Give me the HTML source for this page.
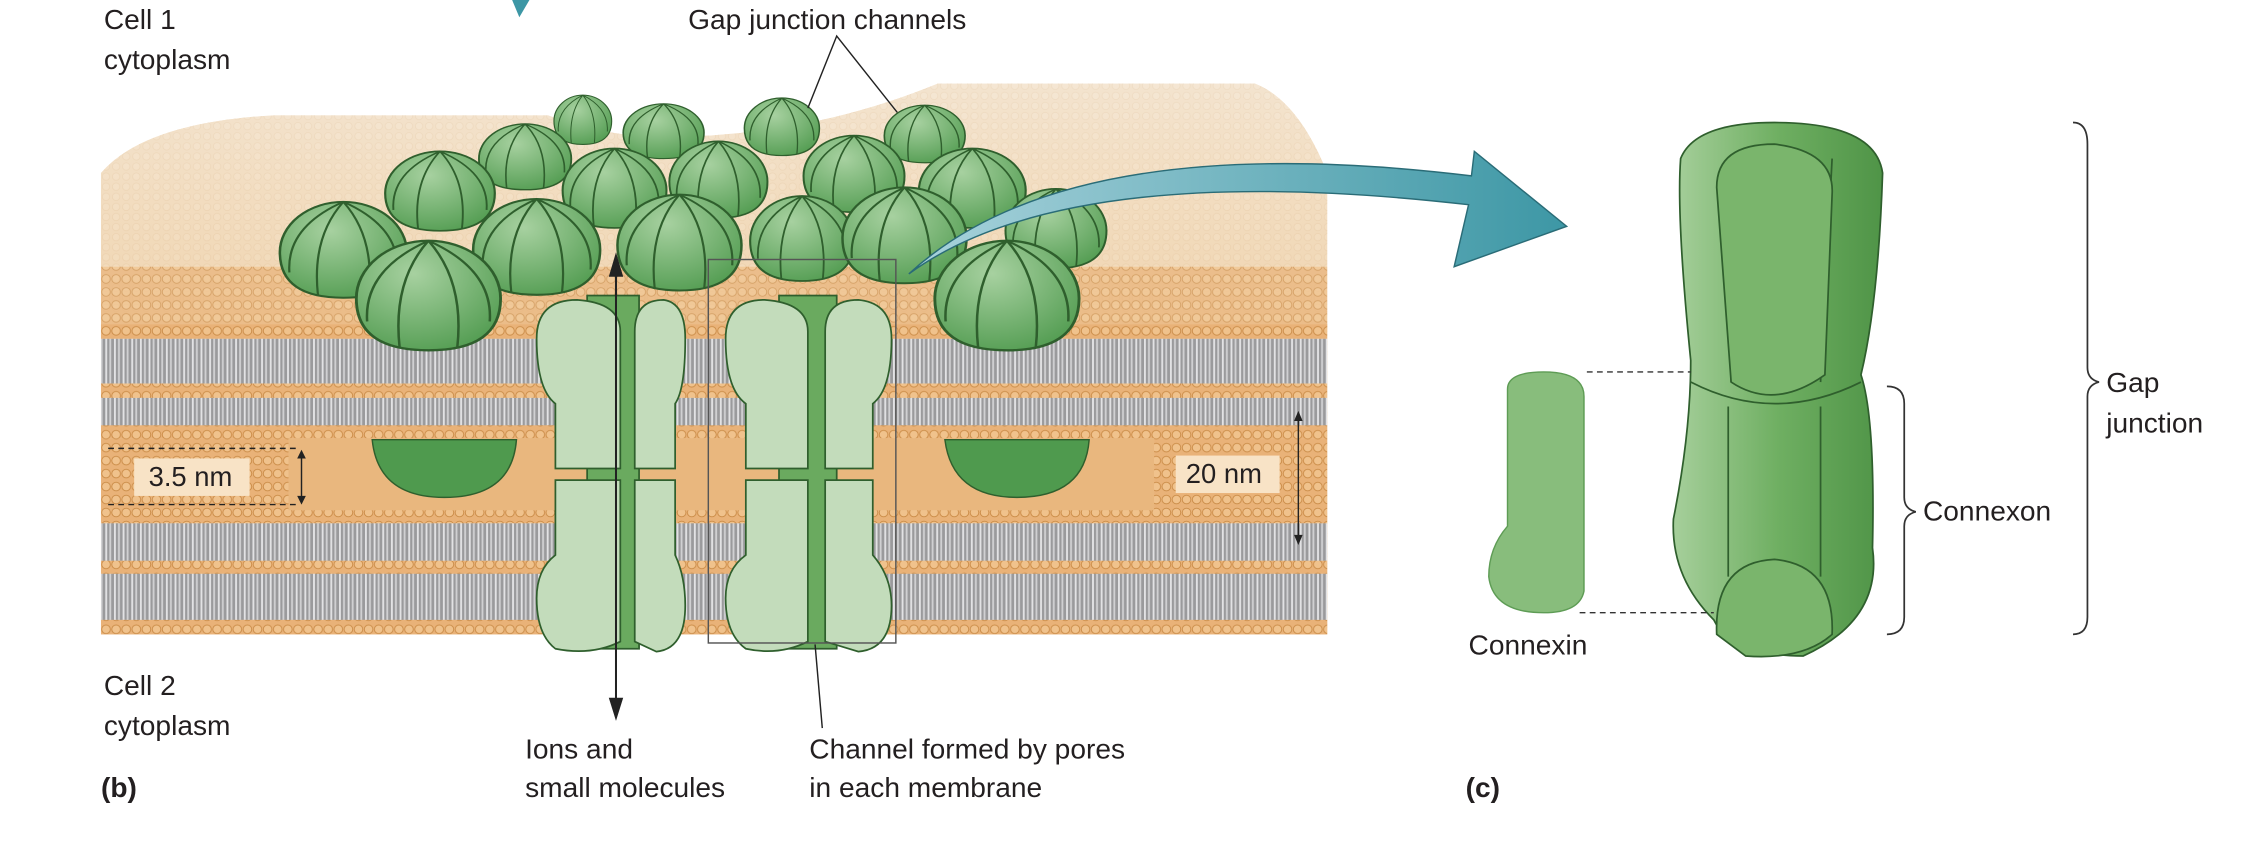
<!DOCTYPE html>
<html><head><meta charset="utf-8"><style>
html,body{margin:0;padding:0;background:#fff}
svg{display:block}
text{font-family:"Liberation Sans",sans-serif;fill:#231f20}
</style></head><body>
<svg width="2262" height="865" viewBox="0 0 1568 600" preserveAspectRatio="none" xmlns="http://www.w3.org/2000/svg">
<defs>
<pattern id="beads" width="7" height="9" patternUnits="userSpaceOnUse">
<rect width="7" height="9" fill="#e9b278"/>
<circle cx="3.5" cy="4.5" r="3" fill="#f0c28c" stroke="#c98a45" stroke-width="0.6"/>
</pattern>
<pattern id="lightbeads" width="7" height="7" patternUnits="userSpaceOnUse">
<rect width="7" height="7" fill="#f1dcc0"/>
<circle cx="3.5" cy="3.5" r="2.6" fill="#f7e8d4" stroke="#dcb98f" stroke-width="0.5"/>
</pattern>
<pattern id="tails" width="6" height="30" patternUnits="userSpaceOnUse">
<rect width="6" height="30" fill="#9a9a9c"/>
<rect x="1" width="1.3" height="30" fill="#e2e2e4"/>
<rect x="3.8" width="1.3" height="30" fill="#d0d0d2"/>
</pattern>
<linearGradient id="topg" x1="0" y1="0" x2="0" y2="1">
<stop offset="0" stop-color="#f4e6d3"/><stop offset="0.5" stop-color="#efcfa4"/><stop offset="1" stop-color="#e8ad6c"/>
</linearGradient>
<linearGradient id="arrowg" x1="0" y1="0" x2="1" y2="0">
<stop offset="0" stop-color="#a9d3dc"/><stop offset="1" stop-color="#3d97a5"/>
</linearGradient>
<radialGradient id="dome" cx="0.4" cy="0.3" r="0.8">
<stop offset="0" stop-color="#a7d1a0"/><stop offset="1" stop-color="#4f9a4e"/>
</radialGradient>
<linearGradient id="conn" x1="0" y1="0" x2="1" y2="0">
<stop offset="0" stop-color="#a6cf9b"/><stop offset="0.5" stop-color="#6faf62"/><stop offset="1" stop-color="#4f9447"/>
</linearGradient>
<g id="d">
<path d="M-1,0 A1,1 0 0 1 1,0 Q1,0.9 0,0.9 Q-1,0.9 -1,0Z" fill="url(#dome)" stroke="#2f5f2d" stroke-width="0.04"/>
<path d="M0,-1 Q-0.5,-0.3 -0.4,0.85 M0,-1 Q0.5,-0.3 0.4,0.85 M0,-1 Q-0.9,-0.5 -0.85,0.4 M0,-1 Q0.9,-0.5 0.85,0.4" fill="none" stroke="#2f5f2d" stroke-width="0.035"/>
</g>
</defs>
<!-- membrane block -->
<path d="M70,120 Q100,85 190,80 L380,80 Q420,95 460,95 Q560,95 650,58 L870,58 Q900,70 920,120 L920,440 L70,440Z" fill="url(#lightbeads)"/>
<path d="M70,120 Q100,85 190,80 L380,80 Q420,95 460,95 Q560,95 650,58 L870,58 Q900,70 920,120 L920,440 L70,440Z" fill="url(#topg)" opacity="0.75"/>
<rect x="70" y="185" width="850" height="45" fill="url(#beads)" opacity="0.7"/>
<!-- layered bands -->
<rect x="70" y="225" width="850" height="10" fill="url(#beads)"/>
<rect x="70" y="235" width="850" height="32" fill="url(#tails)"/>
<rect x="70" y="266" width="850" height="10" fill="url(#beads)"/>
<rect x="70" y="276" width="850" height="20" fill="url(#tails)"/>
<rect x="70" y="295" width="850" height="9" fill="url(#beads)"/>
<rect x="200" y="304" width="600" height="50" fill="#e9b77e"/>
<rect x="70" y="304" width="130" height="50" fill="url(#beads)"/>
<rect x="800" y="304" width="120" height="50" fill="url(#beads)"/>
<rect x="70" y="354" width="850" height="9" fill="url(#beads)"/>
<rect x="70" y="363" width="850" height="26" fill="url(#tails)"/>
<rect x="70" y="389" width="850" height="9" fill="url(#beads)"/>
<rect x="70" y="398" width="850" height="32" fill="url(#tails)"/>
<rect x="70" y="430" width="850" height="10" fill="url(#beads)"/>
<!-- lower hemispheres -->
<path d="M258,305 L358,305 Q355,345 308,345 Q262,345 258,305Z" fill="#4f9a4e" stroke="#2f5f2d"/>
<path d="M655,305 L755,305 Q752,345 705,345 Q660,345 655,305Z" fill="#4f9a4e" stroke="#2f5f2d"/>
<!-- domes -->
<use href="#d" transform="translate(404,84) scale(20,18)"/>
<use href="#d" transform="translate(460,92) scale(28,20)"/>
<use href="#d" transform="translate(542,89) scale(26,21)"/>
<use href="#d" transform="translate(641,94) scale(28,21)"/>
<use href="#d" transform="translate(364,110) scale(32,24)"/>
<use href="#d" transform="translate(426,132) scale(36,29)"/>
<use href="#d" transform="translate(498,126) scale(34,28)"/>
<use href="#d" transform="translate(592,122) scale(35,28)"/>
<use href="#d" transform="translate(674,132) scale(37,29)"/>
<use href="#d" transform="translate(305,134) scale(38,29)"/>
<use href="#d" transform="translate(238,175) scale(44,35)"/>
<use href="#d" transform="translate(372,173) scale(44,35)"/>
<use href="#d" transform="translate(471,170) scale(43,35)"/>
<use href="#d" transform="translate(556,167) scale(36,31)"/>
<use href="#d" transform="translate(627,165) scale(43,35)"/>
<use href="#d" transform="translate(732,160) scale(35,29)"/>
<use href="#d" transform="translate(297,207) scale(50,40)"/>
<use href="#d" transform="translate(698,207) scale(50,40)"/>
<!-- channels -->
<g fill="#c3dcbb" stroke="#2f5f2d" stroke-width="1.2">
<rect x="407" y="205" width="36" height="245" fill="#6aaa5f"/>
<path d="M372,235 Q372,208 400,208 Q430,210 430,230 L430,325 L385,325 Q385,300 385,280 Q372,270 372,235Z"/>
<path d="M440,230 Q440,208 460,208 Q475,210 475,235 Q475,270 468,280 L468,325 L440,325Z"/>
<path d="M385,333 L430,333 L430,445 Q410,455 385,450 Q372,440 372,415 Q372,395 385,385Z"/>
<path d="M440,333 L468,333 L468,385 Q475,400 475,420 Q475,450 455,452 L440,445Z"/>
<rect x="540" y="205" width="40" height="245" fill="#6aaa5f"/>
<path d="M503,235 Q503,208 530,208 Q560,210 560,230 L560,325 L517,325 Q517,300 517,280 Q503,270 503,235Z"/>
<path d="M572,230 Q572,208 595,208 Q618,210 618,235 Q618,270 605,280 L605,325 L572,325Z"/>
<path d="M517,333 L560,333 L560,445 Q540,455 517,450 Q503,440 503,415 Q503,395 517,385Z"/>
<path d="M572,333 L605,333 L605,385 Q618,400 618,420 Q618,450 595,452 L572,445Z"/>
</g>
<rect x="491" y="180" width="130" height="266" fill="none" stroke="#555" stroke-width="1"/>
<!-- vertical arrow -->
<line x1="427" y1="185" x2="427" y2="492" stroke="#222" stroke-width="1.4"/>
<path d="M427,175 L422,192 L432,192Z M427,500 L422,484 L432,484Z" fill="#222"/>
<!-- leaders -->
<path d="M560,75 L580,25 L622,78 M565,447 L570,505" fill="none" stroke="#222" stroke-width="1"/>
<!-- dimension -->
<line x1="75" y1="311" x2="205" y2="311" stroke="#222" stroke-dasharray="4,3"/>
<line x1="75" y1="350" x2="205" y2="350" stroke="#222" stroke-dasharray="4,3"/>
<rect x="93" y="318" width="80" height="26" fill="#f8e3c6"/>
<text x="103" y="337" font-size="19">3.5 nm</text>
<line x1="209" y1="316" x2="209" y2="346" stroke="#222"/>
<path d="M209,312 l-3,6 h6Z M209,350 l-3,-6 h6Z" fill="#222"/>
<rect x="815" y="316" width="72" height="26" fill="#f8e3c6"/>
<text x="822" y="335" font-size="19">20 nm</text>
<line x1="900" y1="290" x2="900" y2="373" stroke="#222"/>
<path d="M900,285 l-3,7 h6Z M900,378 l-3,-7 h6Z" fill="#222"/>
<!-- teal arrows -->
<path d="M355,0 L367,0 L360,12Z" fill="#3d97a5"/>
<path d="M630,190 Q740,110 1018,142 L1008,185 L1086,157 L1022,105 L1020,122 Q740,88 630,190Z" fill="url(#arrowg)" stroke="#2a6c77" stroke-width="1"/>
<!-- connexon -->
<g stroke="#2f5f2d" stroke-width="1.2">
<path d="M1172,250 Q1162,150 1165,110 Q1175,85 1230,85 Q1300,85 1305,120 Q1302,210 1290,260 Q1300,290 1298,380 Q1305,430 1250,455 Q1200,455 1188,430 Q1158,400 1160,360 Q1172,300 1172,250Z" fill="url(#conn)"/>
<path d="M1172,265 Q1230,295 1290,265" fill="none"/>
<path d="M1200,120 L1200,265 M1270,110 L1262,265 M1198,282 L1198,400 M1262,282 L1262,400" fill="none"/>
<path d="M1190,130 Q1190,100 1230,100 Q1272,105 1270,135 L1265,260 Q1230,285 1200,265Z" fill="#7ab56c"/>
<path d="M1190,440 Q1188,390 1230,388 Q1272,392 1270,440 Q1250,458 1210,455Z" fill="#7ab56c"/>
</g>
<path d="M1045,270 Q1045,258 1070,258 Q1098,258 1098,275 L1098,410 Q1095,425 1070,425 Q1035,425 1032,400 Q1032,380 1045,365Z" fill="#88bd7c" stroke="#5e9c55"/>
<path d="M1100,258 L1172,258 M1095,425 L1188,425" stroke="#333" stroke-dasharray="4,3"/>
<!-- braces -->
<path d="M1308,268 Q1320,268 1320,280 L1320,345 Q1320,353 1328,355 Q1320,357 1320,365 L1320,428 Q1320,440 1308,440" fill="none" stroke="#333" stroke-width="1.2"/>
<path d="M1437,85 Q1447,85 1447,100 L1447,255 Q1447,263 1455,265 Q1447,267 1447,275 L1447,428 Q1447,440 1437,440" fill="none" stroke="#333" stroke-width="1.2"/>
<!-- text -->
<g font-size="19.5">
<text x="72" y="20">Cell 1</text>
<text x="72" y="48">cytoplasm</text>
<text x="477" y="20">Gap junction channels</text>
<text x="72" y="482">Cell 2</text>
<text x="72" y="510">cytoplasm</text>
<text x="364" y="526">Ions and</text>
<text x="364" y="553">small molecules</text>
<text x="561" y="526">Channel formed by pores</text>
<text x="561" y="553">in each membrane</text>
<text x="1018" y="454">Connexin</text>
<text x="1333" y="361">Connexon</text>
<text x="1460" y="272">Gap</text>
<text x="1460" y="300">junction</text>
<text x="70" y="553" font-weight="bold">(b)</text>
<text x="1016" y="553" font-weight="bold">(c)</text>
</g>
</svg>
</body></html>
